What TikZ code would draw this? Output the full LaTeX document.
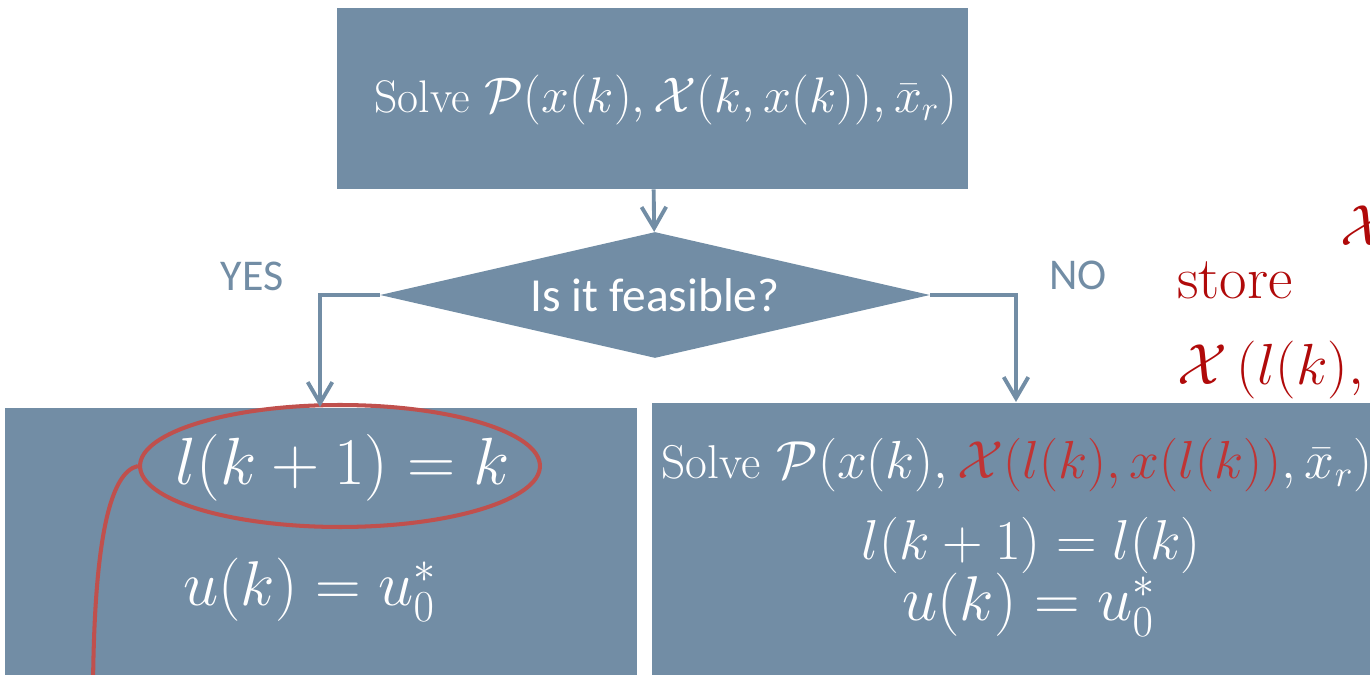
\RequirePackage{fix-cm}
\documentclass[tikz,border=0pt]{standalone}
\usepackage{amsmath}
\usepackage{fontspec}
\newfontfamily\calib{Carlito}
\usepackage{tikz}
\usetikzlibrary{shapes.geometric, arrows.meta, positioning}
\usepackage{xcolor}
\definecolor{cSlate}{RGB}{114,141,165}
\definecolor{cRing}{RGB}{192,80,77}
\definecolor{cMathRed}{RGB}{192,52,52}
\definecolor{cStore}{RGB}{176,10,10}
\tikzset{
  flowbox/.style={rectangle, fill=cSlate, draw=none, text=white,
                  inner sep=0pt},
  testnode/.style={diamond, fill=cSlate, draw=none, text=white, aspect=4.4,
                   inner sep=0pt, minimum width=11cm, minimum height=2.52cm,
                   font=\calib\fontsize{27}{32}\selectfont},
  tagtext/.style={text=cSlate, font=\calib\fontsize{25}{30}\selectfont},
  mathtext/.style={text=white, inner sep=0pt},
  storetext/.style={text=cStore, inner sep=0pt}
}
\tikzset{
  flowarrow/.style={-{Straight Barb[length=12pt, width=14pt, line width=2.2pt]},
                    line width=2.2pt, draw=cSlate},
  ringline/.style={draw=cRing, line width=2.3pt}
}

\begin{document}
\begin{tikzpicture}[x=0.02cm, y=-0.02cm]
  \useasboundingbox (0,0) rectangle (1370,675);
  \clip (0,0) rectangle (1370,675);

  % blocks
  \node[flowbox, minimum width=12.62cm, minimum height=3.62cm] (solve) at (652.5,98.5) {};
  \node[mathtext, anchor=west] (solvetxt) at (374,100)
      {\fontsize{28.5}{34}\selectfont{\fontsize{26}{30}\selectfont Solve}
       $\mathcal{P}(x(k),\mathcal{X}(k,x(k)),\bar{x}_r)$};
  \node[testnode] (test) at (655,295) {Is it feasible?};
  \node[flowbox, minimum width=12.64cm, minimum height=5.84cm] (yesbox) at (321,554) {};
  \node[flowbox, minimum width=15.36cm, minimum height=5.94cm] (nobox) at (1036,551.5) {};

  % branch labels
  \node[tagtext] (yes) at (252,276) {YES};
  \node[tagtext] (no) at (1078,275) {NO};

  % YES branch
  \node[mathtext, font=\fontsize{38}{44}\selectfont] (lk) at (343,468) {$l(k+1)=k$};
  \node[mathtext, font=\fontsize{36}{42}\selectfont] (uk) at (310,590) {$u(k)=u_0^*$};

  % NO branch
  \node[mathtext, anchor=west] (resolve) at (661,465)
      {\fontsize{30.5}{36}\selectfont{\fontsize{27}{32}\selectfont Solve}
       $\mathcal{P}(x(k),\textcolor{cMathRed}{\mathcal{X}(l(k),x(l(k))},\bar{x}_r)$};
  \node[mathtext, font=\fontsize{32}{38}\selectfont] (lkeep) at (1031,545) {$l(k+1)=l(k)$};
  \node[mathtext, font=\fontsize{36}{42}\selectfont] (ukeep) at (1029,605) {$u(k)=u_0^*$};

  % stored set
  \node[storetext, font=\fontsize{34}{40}\selectfont] (store) at (1235,280) {store};
  \node[storetext, font=\fontsize{33}{40}\selectfont, anchor=west] (storeX) at (1340,226) {$\mathcal{X}$};
  \node[storetext, font=\fontsize{33}{40}\selectfont, anchor=west] (storeset) at (1177,370)
      {$\mathcal{X}\left(l(k), x(l(k))\right)$};

  % highlight
  \node[ellipse, ringline, minimum width=8cm, minimum height=2.44cm] (ring) at (340,466) {};
  \coordinate (tail) at (93,690);
  \draw[ringline] (ring.west) .. controls (110,472) and (94,540) .. (tail);

  % connectors
  \coordinate (yesend) at (320,407);
  \coordinate (noend) at (1016,402);
  \draw[flowarrow] (solve) -- (test);
  \draw[flowarrow] (test.west) -| (yesend);
  \draw[flowarrow] (test.east) -| (noend);
\end{tikzpicture}
\end{document}
